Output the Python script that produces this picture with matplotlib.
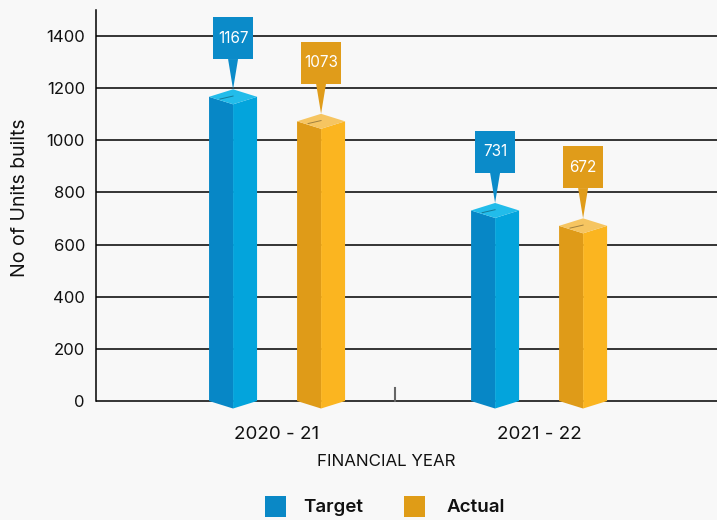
import matplotlib.pyplot as plt
from matplotlib.patches import Polygon, Rectangle

years = ['2020 - 21', '2021 - 22']
target = [1167, 731]
actual = [1073, 672]
yticks = [0, 200, 400, 600, 800, 1000, 1200, 1400]

# face colours: left side, right side, top, callout
blue = ['#0787c6', '#03a4dc', '#22bcea', '#0b8bc9']
orange = ['#df9b18', '#fbb520', '#f6c561', '#e09c1a']

plt.rcParams['font.family'] = ['Inter', 'DejaVu Sans']

fig = plt.figure(figsize=(7.17, 5.2), dpi=100, facecolor='#f8f8f8')
ax = fig.add_axes([96/717, 0.2, 1 - 96/717, 406/520])
ax.set_facecolor('none')
ax.set_xlim(-0.691, 1.679)
ax.set_ylim(-57.5, 1500)

ux = 1/262.      # x units per pixel
uy = 1400/365.   # y units per pixel
w = 48*ux
dy = 7.5*uy
off = 44*ux


def prism(x, v, c):
    xl, xr = x - w/2, x + w/2
    ax.add_patch(Polygon([(xl, 0), (xl, v), (x, v - dy), (x, -dy)], closed=True,
                         facecolor=c[0], edgecolor='none', zorder=3))
    ax.add_patch(Polygon([(x, -dy), (x, v - dy), (xr, v), (xr, 0)], closed=True,
                         facecolor=c[1], edgecolor='none', zorder=3))
    ax.add_patch(Polygon([(xl, v), (x, v - dy), (xr, v), (x, v + dy)], closed=True,
                         facecolor=c[2], edgecolor='none', zorder=3))
    ax.plot([x - 13*ux, x], [v - 0.3*dy, v + 0.1*dy], color='k', alpha=0.35, lw=0.7, zorder=4)


def callout(x, v, c):
    tip = v + dy
    base = tip + 30*uy
    ax.add_patch(Polygon([(x - 5*ux, base + 1), (x + 5*ux, base + 1), (x, tip)], closed=True,
                         facecolor=c[3], edgecolor='none', zorder=5))
    ax.add_patch(Rectangle((x - 20*ux, base), 40*ux, 42*uy, facecolor=c[3],
                           edgecolor='none', zorder=5))
    ax.text(x, base + 21*uy, str(v), color='white', fontsize=11, ha='center',
            va='center', zorder=6)


for t in yticks:
    ax.axhline(t, color='black', lw=1.1, zorder=1)

for i in range(len(years)):
    prism(i - off, target[i], blue)
    prism(i + off, actual[i], orange)
    callout(i - off, target[i], blue)
    callout(i + off, actual[i], orange)

ax.plot([0.45, 0.45], [0, 50], color='#666666', lw=1.5, zorder=2)

for s in ['top', 'right', 'bottom']:
    ax.spines[s].set_visible(False)
ax.spines['left'].set_bounds(0, 1500)
ax.spines['left'].set_linewidth(1.1)

ax.set_yticks(yticks)
ax.set_yticklabels([str(t) for t in yticks], fontsize=12, color='#111111')
ax.set_xticks(range(len(years)))
ax.set_xticklabels(years, fontsize=13.5, color='#111111')
ax.tick_params(axis='both', length=0)
ax.tick_params(axis='y', pad=8)
ax.tick_params(axis='x', pad=7)

fig.text(386/717, 1 - 462/520, 'FINANCIAL YEAR', fontsize=12.2, ha='center', va='center',
         color='#111111')
fig.text(20/717, 1 - 198/520, 'No of Units builts', fontsize=14, rotation=90,
         ha='center', va='center', color='#111111')

# legend
fig.add_artist(Rectangle((265/717, 1 - 517/520), 21/717, 21/520, facecolor='#0a88c6',
                         edgecolor='none', transform=fig.transFigure))
fig.add_artist(Rectangle((404/717, 1 - 517/520), 21/717, 21/520, facecolor='#df9c17',
                         edgecolor='none', transform=fig.transFigure))
fig.text(303/717, 1 - 507/520, 'Target', fontsize=13.5, fontweight='semibold',
         va='center', color='#111111')
fig.text(447/717, 1 - 507/520, 'Actual', fontsize=13.5, fontweight='semibold',
         va='center', color='#111111')

fig.savefig('out.png', dpi=100, facecolor=fig.get_facecolor())
